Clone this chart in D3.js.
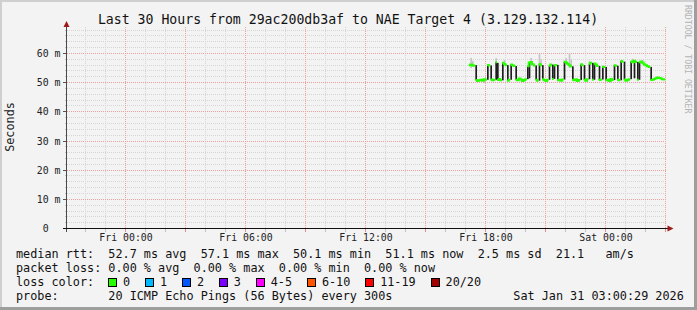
<!DOCTYPE html>
<html>
<head>
<meta charset="utf-8">
<script src="https://cdn.jsdelivr.net/npm/d3@7"></script>
<style>
  html, body { margin: 0; padding: 0; background: #f3f3f3; }
  svg { display: block; }
  text { font-family: "DejaVu Sans Mono", monospace; white-space: pre; }
</style>
</head>
<body>
<svg id="chart" width="697" height="310"></svg>
<script>
const TITLE = "Last 30 Hours from 29ac200db3af to NAE Target 4 (3.129.132.114)";
const START = Date.UTC(2026, 0, 29, 21, 0, 29);
const END = Date.UTC(2026, 0, 31, 3, 0, 29);
const FIRST_STEP = Date.UTC(2026, 0, 30, 17, 10, 0);
const STEP_MS = 300000;

// median rtt per 5 minute step, in ms
const rttMedian = [
  56.0, 56.2, 56.0, 55.8,
  50.9, 50.6, 50.8, 51.0, 50.7, 51.2, 51.0,
  56.1, 55.9,
  51.1, 50.8, 51.0,
  57.0,
  50.9, 51.3, 50.8,
  56.8, 56.4, 56.0,
  50.7, 51.0,
  56.2, 56.0, 55.7,
  51.0, 50.8, 51.4, 51.1, 50.6, 50.9, 51.2,
  55.6, 56.9, 57.1, 56.3, 55.9,
  51.0, 50.7,
  56.4, 56.0,
  51.2, 50.9, 50.6, 51.0,
  55.8, 56.2,
  51.3,
  55.9, 56.1,
  50.8, 51.0, 50.7, 51.1,
  57.2, 56.9, 56.5, 56.0, 55.6,
  51.0, 50.8, 51.2, 50.6, 50.9,
  56.3, 56.0,
  51.0, 50.7, 51.2,
  56.5, 56.8,
  51.0,
  56.6, 56.2, 55.7,
  50.9, 51.1,
  55.5, 55.4,
  50.8, 51.0, 50.6, 51.3, 50.9,
  56.0, 55.8,
  51.0, 50.8,
  57.4, 57.2,
  51.1, 50.7, 50.9, 51.2,
  57.3, 57.0, 57.5, 57.1,
  51.0,
  57.0, 57.3, 56.8, 56.2, 56.0, 55.6, 55.4,
  50.9, 51.0, 51.3,
  51.5, 51.8, 51.6, 51.4, 51.2, 51.1
];

// dense smoke: [step, low ms, high ms]
const smokeDark = [
  [4, 50.9, 56.0], [11, 51.0, 56.1], [13, 51.1, 55.9], [16, 51.0, 57.0],
  [17, 50.9, 56.8], [20, 50.8, 56.8], [23, 50.7, 56.0], [25, 51.0, 56.2],
  [28, 51.0, 55.7], [35, 51.2, 55.6], [36, 51.5, 56.9], [40, 51.0, 55.9],
  [42, 50.7, 56.4], [44, 51.2, 56.0], [48, 51.0, 55.8], [50, 51.3, 56.2],
  [51, 51.3, 55.9], [53, 50.8, 56.1], [57, 51.1, 57.2], [62, 51.0, 55.6],
  [67, 50.9, 56.3], [69, 51.0, 56.0], [72, 51.2, 56.5], [74, 51.0, 56.8],
  [75, 51.0, 56.6], [78, 50.9, 55.7], [80, 51.1, 55.5], [82, 50.8, 55.4],
  [87, 50.9, 56.0], [89, 51.0, 55.8], [91, 50.8, 57.4], [93, 51.1, 57.2],
  [97, 51.2, 57.3], [99, 51.5, 57.5], [101, 51.0, 57.1], [102, 51.0, 57.0],
  [109, 50.9, 55.4]
];

// outer smoke: [step, low ms, high ms]
const smokeLight = [
  [1, 55.0, 58.5], [2, 55.5, 57.5], [9, 49.8, 51.5], [16, 56.0, 58.4],
  [21, 56.2, 57.8], [37, 57.0, 58.5], [42, 56.2, 59.8], [43, 56.0, 58.0],
  [58, 56.5, 58.4], [60, 55.0, 60.2], [61, 55.3, 58.0], [72, 56.5, 57.5],
  [85, 50.0, 51.5], [98, 57.0, 58.2], [104, 56.5, 57.8]
];

const yTickValues = [0, 10, 20, 30, 40, 50, 60];

const statLines = [
  "median rtt:  52.7 ms avg  57.1 ms max  50.1 ms min  51.1 ms now  2.5 ms sd  21.1   am/s",
  "packet loss: 0.00 % avg  0.00 % max  0.00 % min  0.00 % now"
];
const lossLabels = ["0", "1", "2", "3", "4-5", "6-10", "11-19", "20/20"];
const lossColors = ["#26ff00", "#00b8ff", "#0059ff", "#7e00ff", "#ff00ff", "#ff5500", "#ff0000", "#a00000"];
const probeText = "probe:       20 ICMP Echo Pings (56 Bytes) every 300s";
const stampText = "Sat Jan 31 03:00:29 2026";

const CHAR_W = 7.115;

const svg = d3.select("#chart");
const x = d3.scaleUtc().domain([START, END]).range([65.5, 665.5]);
const y = d3.scaleLinear().domain([0, 69]).range([228.5, 27.25]);
const plotLeft = 66.5;
const plotRight = 666;
const plotTop = 27;
const axisY = 228.5;

function crisp(v) {
  return Math.ceil(v - 1) + 0.5;
}

function stepTime(i) {
  return FIRST_STEP + i * STEP_MS;
}

svg.append("rect").attr("width", 697).attr("height", 310).attr("fill", "#f3f3f3");

// grid
const grid = svg.append("g").attr("shape-rendering", "crispEdges");
const minorY = d3.range(2, 69, 2).filter((v) => v % 10 !== 0);
const majorY = yTickValues.filter((v) => v > 0);
const hours = d3.utcHour.every(1).range(START, END + 1);

grid.selectAll(".hminor").data(minorY).join("line")
  .attr("x1", plotLeft).attr("x2", plotRight)
  .attr("y1", (d) => crisp(y(d))).attr("y2", (d) => crisp(y(d)))
  .attr("stroke", "#d6d6d6").attr("stroke-dasharray", "1,1");

grid.selectAll(".vminor").data(hours.filter((t) => t.getUTCHours() % 3 !== 0)).join("line")
  .attr("x1", (d) => crisp(x(d))).attr("x2", (d) => crisp(x(d)))
  .attr("y1", plotTop).attr("y2", axisY)
  .attr("stroke", "#d6d6d6").attr("stroke-dasharray", "1,1");

grid.selectAll(".hmajor").data(majorY).join("line")
  .attr("x1", plotLeft).attr("x2", plotRight)
  .attr("y1", (d) => crisp(y(d))).attr("y2", (d) => crisp(y(d)))
  .attr("stroke", "#eea0a0").attr("stroke-dasharray", "1,1");

grid.selectAll(".vmajor").data(hours.filter((t) => t.getUTCHours() % 3 === 0)).join("line")
  .attr("x1", (d) => crisp(x(d))).attr("x2", (d) => crisp(x(d)))
  .attr("y1", plotTop).attr("y2", axisY)
  .attr("stroke", "#eea0a0").attr("stroke-dasharray", "1,1");

// small ticks outside the canvas
grid.selectAll(".xtick").data(hours).join("line")
  .attr("x1", (d) => crisp(x(d))).attr("x2", (d) => crisp(x(d)))
  .attr("y1", axisY).attr("y2", axisY + 3)
  .attr("stroke", (d) => (d.getUTCHours() % 3 === 0 ? "#e08a8a" : "#c0c0c0"));

grid.selectAll(".ytick").data(minorY).join("line")
  .attr("x1", plotLeft - 2).attr("x2", plotLeft)
  .attr("y1", (d) => crisp(y(d))).attr("y2", (d) => crisp(y(d)))
  .attr("stroke", "#c0c0c0");

grid.selectAll(".ytickmajor").data(yTickValues).join("line")
  .attr("x1", plotLeft - 4).attr("x2", plotLeft)
  .attr("y1", (d) => crisp(y(d))).attr("y2", (d) => crisp(y(d)))
  .attr("stroke", "#555");

// smoke
const stepW = x(STEP_MS + FIRST_STEP) - x(FIRST_STEP);

svg.append("g").selectAll("rect").data(smokeLight).join("rect")
  .attr("x", (d) => x(stepTime(d[0])))
  .attr("width", stepW)
  .attr("y", (d) => y(d[2]))
  .attr("height", (d) => y(d[1]) - y(d[2]))
  .attr("fill", "#c6c6c6");

svg.append("g").selectAll("rect").data(smokeDark).join("rect")
  .attr("x", (d) => x(stepTime(d[0])))
  .attr("width", stepW)
  .attr("y", (d) => y(d[2]))
  .attr("height", (d) => y(d[1]) - y(d[2]))
  .attr("fill", "#1e1e1e");

// median line, split where the jump is carried by the smoke
const runs = [];
let current = [];
rttMedian.forEach((value, i) => {
  if (current.length && Math.abs(value - rttMedian[i - 1]) > 2) {
    runs.push(current);
    current = [];
  }
  current.push({ t: stepTime(i), v: value });
});
runs.push(current);

const medianLine = d3.line()
  .x((d) => x(d.t))
  .y((d) => y(d.v))
  .curve(d3.curveStepAfter);

svg.append("g").selectAll("path").data(runs).join("path")
  .attr("d", (run) => medianLine([...run, { t: run[run.length - 1].t + STEP_MS, v: run[run.length - 1].v }]))
  .attr("fill", "none")
  .attr("stroke", lossColors[0])
  .attr("stroke-width", 2);

// axes
svg.append("line")
  .attr("x1", plotLeft).attr("x2", plotLeft)
  .attr("y1", plotTop - 1).attr("y2", axisY + 3)
  .attr("stroke", "#4a4a4a").attr("shape-rendering", "crispEdges");

svg.append("line")
  .attr("x1", plotLeft - 4).attr("x2", 668)
  .attr("y1", axisY).attr("y2", axisY)
  .attr("stroke", "#111").attr("shape-rendering", "crispEdges");

svg.append("path")
  .attr("d", `M${plotLeft - 3},${plotTop} L${plotLeft + 3},${plotTop} L${plotLeft},${plotTop - 6} Z`)
  .attr("fill", "#9e1a1a");

svg.append("path")
  .attr("d", `M667.5,${axisY - 3} L667.5,${axisY + 3} L673.5,${axisY} Z`)
  .attr("fill", "#9e1a1a");

// axis labels
svg.append("g").selectAll("text").data(yTickValues).join("text")
  .attr("x", 60.5)
  .attr("y", (d) => crisp(y(d)) + 3.5)
  .attr("text-anchor", "end")
  .attr("font-size", "9.85px")
  .attr("fill", "#222")
  .text((d) => (d === 0 ? "0  " : `${d} m`));

const xFormat = d3.utcFormat("%a %H:%M");
svg.append("g").selectAll("text").data(d3.utcHour.every(6).range(START, END)).join("text")
  .attr("x", (d) => crisp(x(d)) + 0.5)
  .attr("y", 241)
  .attr("text-anchor", "middle")
  .attr("font-size", "9.85px")
  .attr("fill", "#222")
  .text((d) => xFormat(d));

svg.append("text")
  .attr("transform", "translate(14,127) rotate(-90)")
  .attr("text-anchor", "middle")
  .attr("font-size", "11.8px")
  .attr("fill", "#222")
  .text("Seconds");

svg.append("text")
  .attr("x", 348)
  .attr("y", 24)
  .attr("text-anchor", "middle")
  .attr("font-size", "13.2px")
  .attr("fill", "#111")
  .text(TITLE);

svg.append("text")
  .attr("transform", "translate(685,5) rotate(90)")
  .attr("font-size", "8.2px")
  .attr("fill", "#b4b4b4")
  .text("RRDTOOL / TOBI OETIKER");

// legend
const legend = svg.append("g").attr("font-size", "11.8px").attr("fill", "#111");

legend.selectAll(".stat").data(statLines).join("text")
  .attr("x", 16)
  .attr("y", (d, i) => 258 + i * 14)
  .text((d) => d);

legend.append("text").attr("x", 16).attr("y", 286).text("loss color:");

let cursor = 16 + 13 * CHAR_W - 0.2;
const lossItems = lossLabels.map((label, i) => {
  const item = { label, color: lossColors[i], box: cursor, text: cursor + 14.8 };
  cursor = item.text + label.length * CHAR_W + 15.0;
  return item;
});

legend.selectAll(".lossbox").data(lossItems).join("rect")
  .attr("x", (d) => Math.round(d.box) + 0.5)
  .attr("y", 278.5)
  .attr("width", 8)
  .attr("height", 8)
  .attr("fill", (d) => d.color)
  .attr("stroke", "#000")
  .attr("shape-rendering", "crispEdges");

legend.selectAll(".losslabel").data(lossItems).join("text")
  .attr("x", (d) => d.text)
  .attr("y", 286)
  .text((d) => d.label);

legend.append("text").attr("x", 16).attr("y", 300).text(probeText);
legend.append("text").attr("x", 513.3).attr("y", 300).text(stampText);

// 3d frame
svg.append("rect").attr("x", 0).attr("y", 0).attr("width", 697).attr("height", 2).attr("fill", "#cfcfcf");
svg.append("rect").attr("x", 0).attr("y", 0).attr("width", 2).attr("height", 310).attr("fill", "#cfcfcf");
svg.append("rect").attr("x", 0).attr("y", 307).attr("width", 697).attr("height", 3).attr("fill", "#9e9e9e");
svg.append("rect").attr("x", 694).attr("y", 0).attr("width", 3).attr("height", 310).attr("fill", "#9e9e9e");
</script>
</body>
</html>
